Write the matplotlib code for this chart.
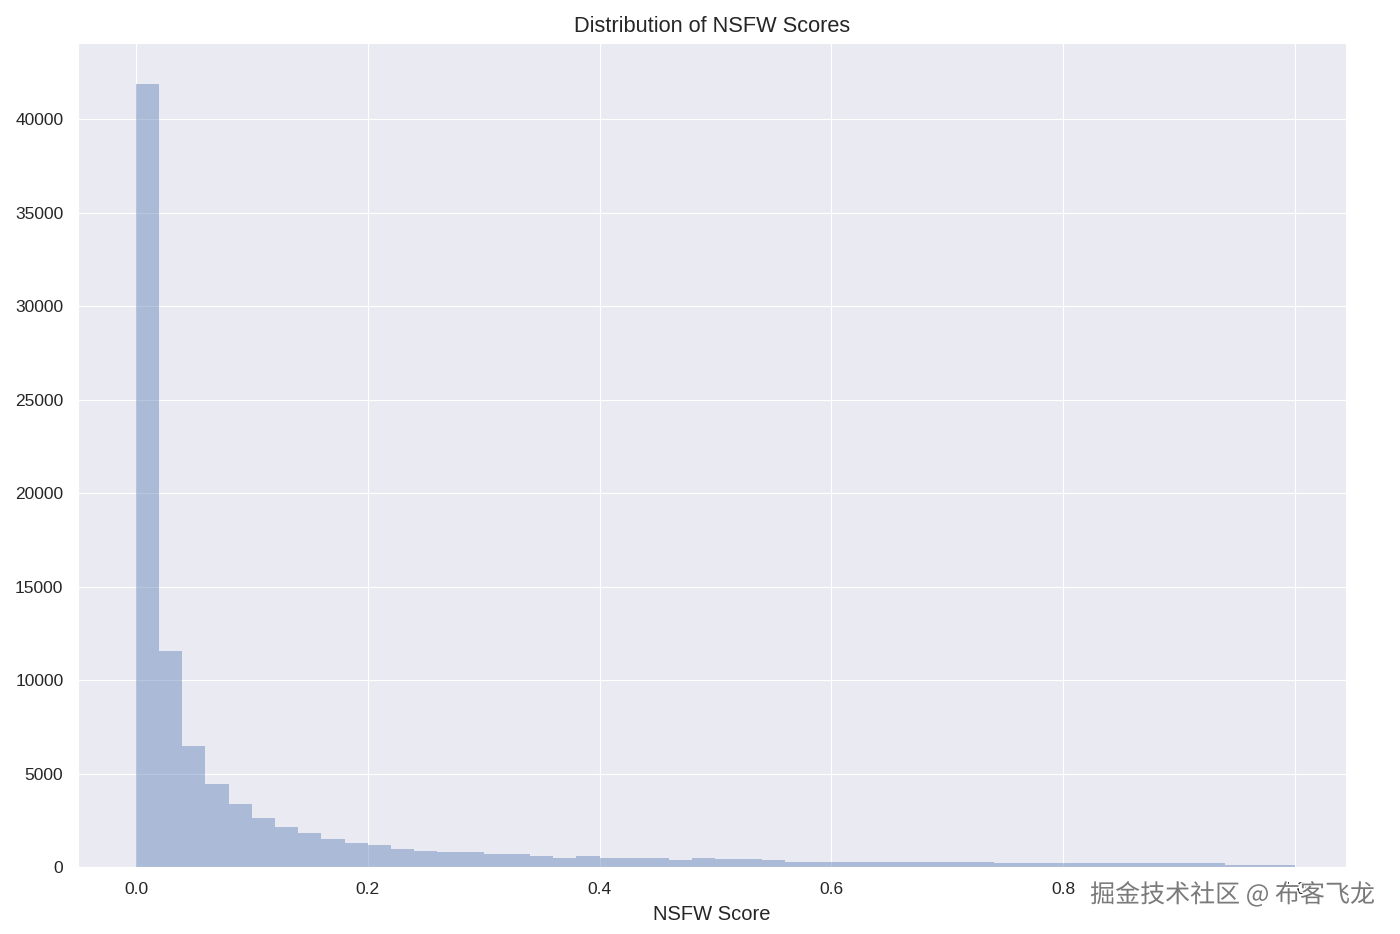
import numpy as np
import matplotlib
matplotlib.use("Agg")
import matplotlib.pyplot as plt
import matplotlib.patheffects as pe
import seaborn as sns

bin_edges = np.linspace(0.0, 1.0, 51)
counts = [41900, 11550, 6470, 4440, 3370, 2620, 2140, 1820, 1500, 1280,
          1180, 960, 860, 800, 790, 700, 690, 590, 500, 590,
          470, 465, 460, 375, 480, 420, 410, 400, 290, 285,
          280, 275, 270, 268, 265, 262, 255, 215, 212, 210,
          210, 208, 205, 203, 200, 198, 195, 110, 105, 100]
title = "Distribution of NSFW Scores"
xlabel = "NSFW Score"
watermark = "掘金技术社区 @ 布客飞龙"

sns.set_style("darkgrid")
plt.rcParams['font.family'] = ['Liberation Sans', 'DejaVu Sans']

fig = plt.figure(figsize=(14, 9.34), dpi=100)
ax = fig.add_axes([78/1400, 1 - 867/934, (1346-78)/1400, (867-43)/934])
ax.hist(bin_edges[:-1], bins=bin_edges, weights=counts, color="#4C72B0", alpha=0.4, linewidth=0)
ax.set_ylim(0, max(counts) * 1.052)
ax.set_xlim(-0.05, 1.044)
ax.set_yticks(np.arange(0, 40001, 5000))
ax.set_xticks(np.arange(0, 1.01, 0.2))
ax.tick_params(labelsize=12.5, colors="#262626", pad=7)
ax.set_title(title, fontsize=15.7, color="#262626", pad=8)
ax.set_xlabel(xlabel, fontsize=14.5, color="#262626", labelpad=6)

fig.text(1375/1400, 1 - 895/934, watermark, ha="right", va="center",
         fontsize=18.0, color="#7a7a7a", family=['Noto Sans CJK SC', 'DejaVu Sans'],
         path_effects=[pe.withStroke(linewidth=2.0, foreground="white")])

fig.savefig("out.png", dpi=100)
